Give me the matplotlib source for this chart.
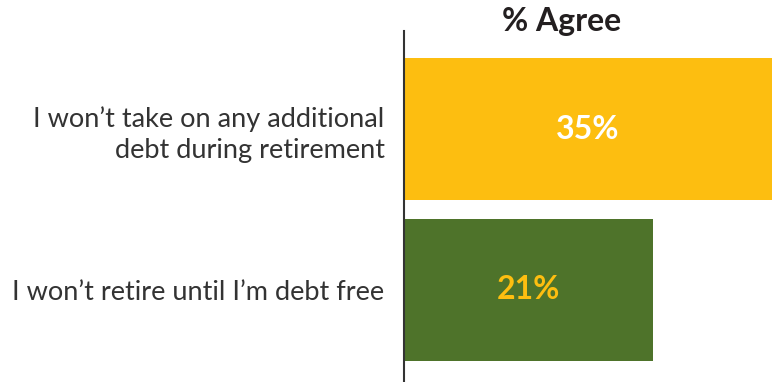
import matplotlib
matplotlib.use('Agg')
import matplotlib.pyplot as plt

labels = ['I won\u2019t take on any additional\ndebt during retirement',
          'I won\u2019t retire until I\u2019m debt free']
values = [35, 21]
bar_colors = ['#FDBE10', '#4E732A']
text_colors = ['#FFFFFF', '#FDBE10']

plt.rcParams['font.family'] = ['Lato', 'DejaVu Sans']

fig = plt.figure(figsize=(7.72, 3.82), dpi=100)
ax = fig.add_axes([404/772, 0, 368/772, 351/382])

xmax = 31.0
ypos = list(range(len(values)))
ax.barh(ypos, values, height=0.885, color=bar_colors)
ax.set_xlim(0, xmax)
ax.set_ylim(1.576, -0.611)

# value labels sit in the middle of the visible part of each bar
for y, v, c in zip(ypos, values, text_colors):
    ax.text(min(v, xmax) / 2, y, f'{v}%', ha='center', va='center',
            color=c, fontsize=23, fontweight='bold')

ax.set_yticks(ypos)
ax.set_yticklabels(labels, fontsize=19.5, color='#333333', linespacing=1.3)
ax.tick_params(axis='y', length=0, pad=14)
ax.set_xticks([])

for s in ['top', 'right', 'bottom']:
    ax.spines[s].set_visible(False)
ax.spines['left'].set_color('#333333')
ax.spines['left'].set_linewidth(1.5)

fig.text(562/772, 1 - 22/382, '% Agree', ha='center', va='center',
         fontsize=23, fontweight='bold', color='#231F20')

fig.savefig('out.png', dpi=100)
